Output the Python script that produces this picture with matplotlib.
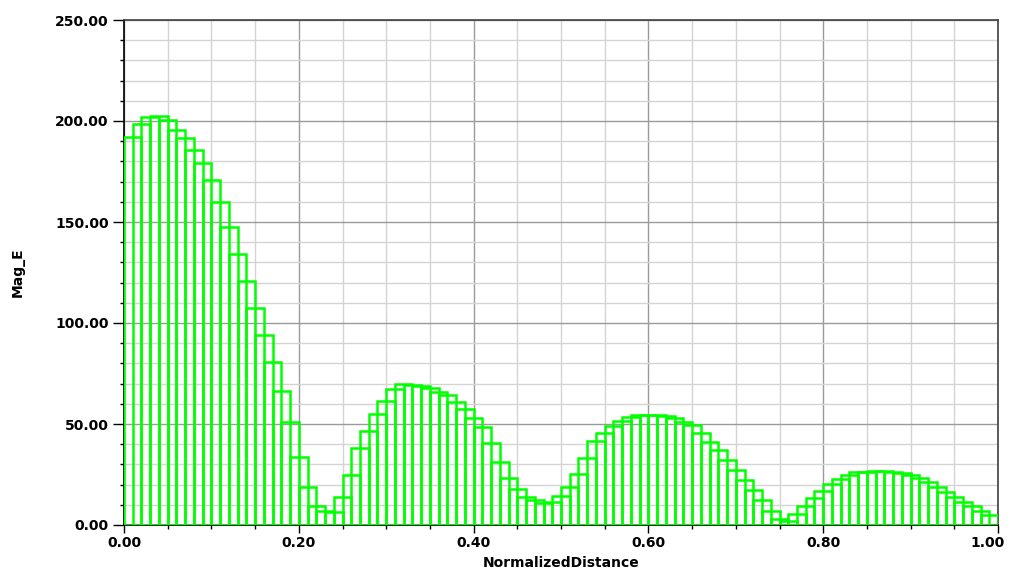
import matplotlib.pyplot as plt
import matplotlib.transforms as mtransforms
from matplotlib.ticker import MultipleLocator, FormatStrFormatter

# normalized distance of each bar's left edge, bar width, and Mag_E values
bar_step = 0.01
bar_width = 0.02
mag_e = [192.0, 198.5, 202.0, 202.5, 200.5, 195.5, 191.5, 185.5, 179.0, 171.0,
         160.0, 147.5, 134.0, 121.0, 107.5, 94.0, 80.5, 66.5, 51.0, 33.5,
         19.0, 9.5, 6.7, 6.6, 14.0, 25.0, 38.0, 46.5, 55.0, 61.5,
         67.5, 70.0, 69.5, 68.8, 67.7, 66.0, 64.4, 61.0, 57.3, 53.0,
         48.7, 40.8, 31.4, 23.2, 18.0, 14.0, 12.4, 11.1, 11.6, 14.4,
         19.0, 25.2, 33.0, 41.7, 45.4, 49.0, 51.6, 53.3, 54.3, 54.6,
         54.6, 54.0, 52.8, 51.2, 49.5, 45.7, 41.2, 37.1, 32.2, 27.2,
         22.3, 17.5, 12.4, 6.9, 3.0, 2.1, 5.4, 9.4, 13.2, 17.0,
         20.3, 22.6, 24.8, 26.1, 26.4, 26.5, 26.5, 26.4, 25.6, 24.8,
         23.4, 21.5, 19.0, 16.5, 14.0, 11.5, 9.4, 6.9, 5.0]
x_left = [i * bar_step for i in range(len(mag_e))]

fig = plt.figure(figsize=(10.09, 5.73), dpi=100)
ax = fig.add_axes([124 / 1009, 48 / 573, 874 / 1009, 505 / 573])

ax.bar(x_left, mag_e, width=bar_width, align='edge', fill=False,
       edgecolor='#00ff00', linewidth=1.8, zorder=3)

ax.set_xlim(0, 1)
ax.set_ylim(0, 250)

ax.xaxis.set_major_locator(MultipleLocator(0.2))
ax.xaxis.set_minor_locator(MultipleLocator(0.05))
ax.yaxis.set_major_locator(MultipleLocator(50))
ax.yaxis.set_minor_locator(MultipleLocator(10))
ax.xaxis.set_major_formatter(FormatStrFormatter('%.2f'))
ax.yaxis.set_major_formatter(FormatStrFormatter('%.2f'))

ax.grid(which='minor', color='#d4d4d4', linewidth=1.0, zorder=0)
ax.grid(which='major', color='#9a9a9a', linewidth=1.0, zorder=1)
ax.set_axisbelow(True)

ax.tick_params(axis='both', which='major', direction='out', length=6,
               width=1, labelsize=10, pad=2)
ax.tick_params(axis='both', which='minor', direction='out', length=3, width=1)
ax.tick_params(axis='y', which='major', length=8, pad=3)

for side in ['left', 'bottom']:
    ax.spines[side].set_color('black')
    ax.spines[side].set_linewidth(1.2)
for side in ['top', 'right']:
    ax.spines[side].set_color('#404040')
    ax.spines[side].set_linewidth(1.2)

ax.set_xlabel("NormalizedDistance", fontsize=10, fontweight='bold')
ax.set_ylabel("Mag_E", fontsize=10, fontweight='bold')
ax.xaxis.set_label_coords(0.5, -0.062)
ax.yaxis.set_label_coords(-0.114, 0.5)

fig.canvas.draw()
for lab in ax.get_xticklabels() + ax.get_yticklabels():
    lab.set_fontweight('bold')
    # keep the "1.00" label inside the figure
    if lab.get_text() == '1.00':
        lab.set_transform(lab.get_transform() +
                          mtransforms.ScaledTranslation(-0.1, 0, fig.dpi_scale_trans))

fig.savefig("out.png", dpi=100)
